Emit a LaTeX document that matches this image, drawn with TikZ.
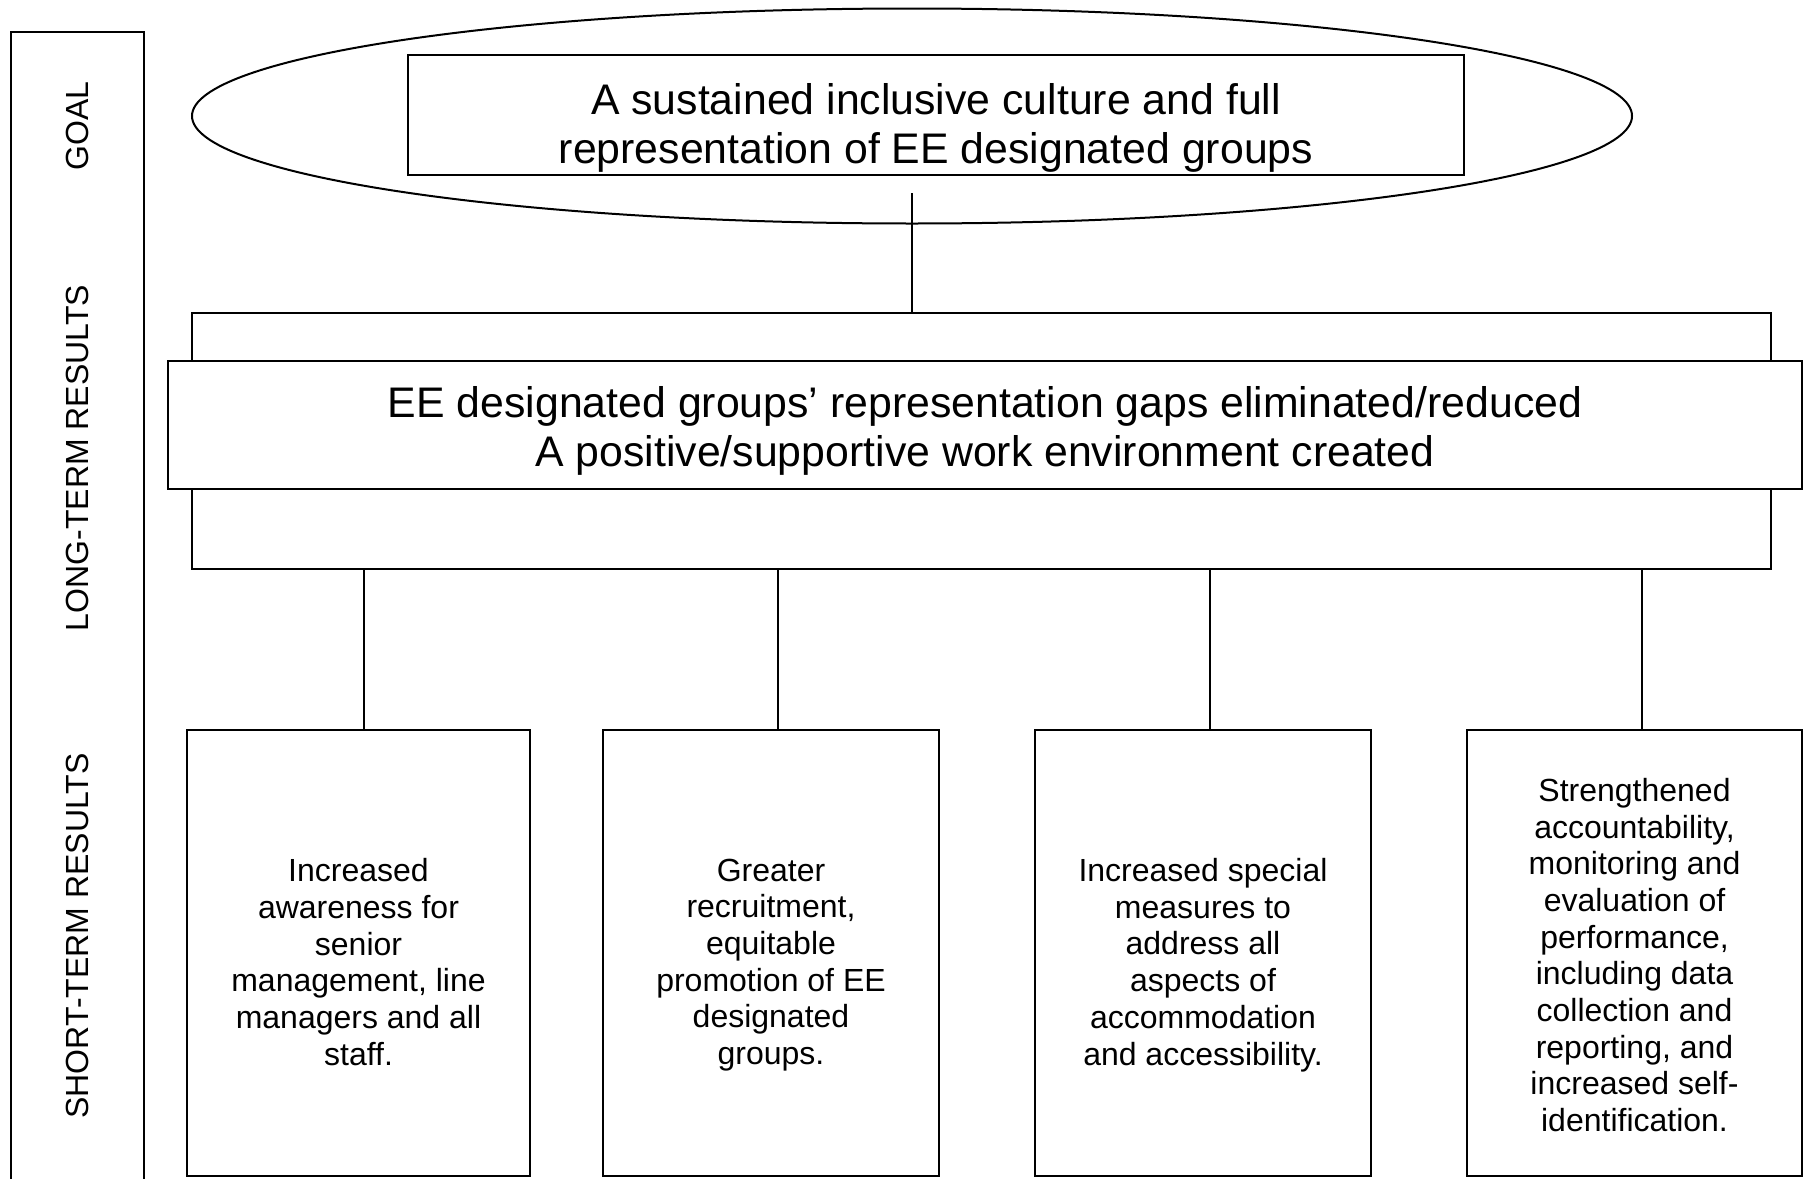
\documentclass[tikz,border=0pt]{standalone}
\usepackage{fontspec}
\setmainfont{Liberation Sans}
\usetikzlibrary{shapes.geometric}
\begin{document}
\begin{tikzpicture}[x=1pt,y=-1pt,line width=2pt,
  frame/.style={draw,rectangle,inner sep=0pt,fill=white},
  bigtxt/.style={align=center,inner sep=0pt,font=\fontsize{42.8}{49}\selectfont},
  smalltxt/.style={align=center,inner sep=0pt,font=\fontsize{32}{36.7}\selectfont},
  sidetxt/.style={rotate=90,inner sep=0pt,font=\fontsize{32}{36.7}\selectfont}]
\useasboundingbox (0,0) rectangle (1811,1178);
\fill[white] (0,0) rectangle (1811,1178);
% left column
\draw (11,1182) -- (11,32) -- (144,32) -- (144,1182);
\node[sidetxt] (lgoal) at (77.5,126) {GOAL};
\node[sidetxt] (llong) at (77.5,458) {LONG-TERM RESULTS};
\node[sidetxt] (lshort) at (77.5,936) {SHORT-TERM RESULTS};
% goal
\node[draw,ellipse,inner sep=0pt,minimum width=1440pt,minimum height=215pt] (goalell) at (912,116) {};
\node[frame,minimum width=1056pt,minimum height=120pt] (goal) at (936,115) {};
\node[bigtxt] (goaltxt) at (936,127.5) {A sustained inclusive culture and full\\representation of EE designated groups};
% long-term
\node[frame,minimum width=1579pt,minimum height=256pt] (back) at (981.5,441) {};
\node[frame,minimum width=1634.5pt,minimum height=128pt] (front) at (984.75,425) {};
\node[bigtxt] (fronttxt) at (985,431) {EE designated groups’ representation gaps eliminated/reduced\\A positive/supportive work environment created};
% short-term boxes
\node[frame,minimum width=343pt,minimum height=446pt] (box1) at (358.5,953) {};
\node[frame,minimum width=336pt,minimum height=446pt] (box2) at (771,953) {};
\node[frame,minimum width=336pt,minimum height=446pt] (box3) at (1203,953) {};
\node[frame,minimum width=335pt,minimum height=446pt] (box4) at (1634.5,953) {};
\node[smalltxt] (t1) at (358.5,962) {Increased\\awareness for\\senior\\management, line\\managers and all\\staff.};
\node[smalltxt] (t2) at (771,965) {Greater\\recruitment,\\equitable\\promotion of EE\\designated\\groups.};
\node[smalltxt] (t3) at (1203,965) {Increased special\\measures to\\address all\\aspects of\\accommodation\\and accessibility.};
\node[smalltxt] (t4) at (1634.5,955) {Strengthened\\accountability,\\monitoring and\\evaluation of\\performance,\\including data\\collection and\\reporting, and\\increased self-\\identification.};
% connectors
\coordinate (gstart) at (912,193);
\draw (gstart) -- (gstart |- back.north);
\coordinate (k1) at (364,0);
\coordinate (k2) at (778,0);
\coordinate (k3) at (1210,0);
\coordinate (k4) at (1642,0);
\foreach \i in {1,2,3,4}{
  \draw (k\i |- back.south) -- (k\i |- box\i.north);
}
\end{tikzpicture}
\end{document}
